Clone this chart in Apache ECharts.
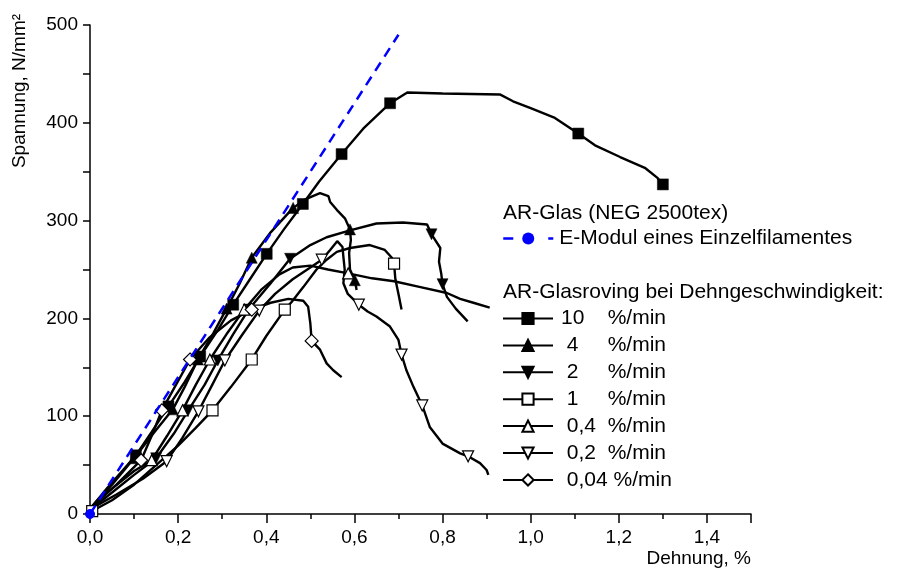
<!DOCTYPE html>
<html>
<head>
<meta charset="utf-8">
<script src="https://cdn.jsdelivr.net/npm/echarts@6/dist/echarts.min.js"></script>
<style>
  html, body { margin: 0; padding: 0; background: #ffffff; }
  #chart { width: 900px; height: 569px; }
</style>
</head>
<body>
<div id="chart"></div>
<script>
// Stress-strain curves of AR glass rovings (NEG 2500tex) at several strain rates.
// Each curve: [Dehnung %, Spannung N/mm²]; marker lists hold the indices of points that carry a symbol.

const xTickValues = [0, 0.2, 0.4, 0.6, 0.8, 1.0, 1.2, 1.4];
const yTickValues = [0, 100, 200, 300, 400, 500];

// E-modulus of a single filament (straight line from the origin)
const eModul = [[0, 0], [0.70, 490]];

const rate10 = [
  [0.005, 8], [0.04, 27], [0.075, 45], [0.104, 60], [0.14, 84], [0.178, 110],
  [0.215, 135], [0.25, 161], [0.29, 188], [0.325, 214], [0.36, 238], [0.401, 266],
  [0.44, 291], [0.483, 317], [0.52, 340], [0.571, 368], [0.62, 394], [0.681, 420],
  [0.72, 431], [0.80, 430], [0.93, 429], [0.96, 422], [1.0, 415], [1.055, 405],
  [1.108, 389], [1.146, 377], [1.203, 365], [1.259, 354], [1.287, 344], [1.30, 337]
];
const rate10Markers = [3, 5, 7, 9, 11, 13, 15, 17, 24, 29];

const rate4 = [
  [0.005, 8], [0.05, 30], [0.10, 57], [0.145, 83], [0.188, 107], [0.215, 130],
  [0.245, 158], [0.28, 185], [0.31, 210], [0.34, 236], [0.367, 262], [0.41, 288],
  [0.461, 313], [0.49, 322], [0.511, 326], [0.522, 328], [0.541, 325], [0.545, 319],
  [0.56, 311], [0.579, 302], [0.59, 291], [0.592, 280], [0.588, 267], [0.59, 250],
  [0.601, 239], [0.605, 229]
];
const rate4Markers = [2, 4, 6, 8, 10, 12, 20, 24];

const rate2 = [
  [0.005, 6], [0.05, 22], [0.10, 40], [0.15, 57], [0.19, 82], [0.223, 106],
  [0.26, 132], [0.29, 157], [0.325, 184], [0.36, 209], [0.41, 236], [0.454, 261],
  [0.50, 275], [0.537, 283], [0.59, 290], [0.65, 297], [0.71, 298], [0.765, 296],
  [0.775, 286], [0.795, 272], [0.792, 258], [0.797, 246], [0.80, 235], [0.81, 222],
  [0.83, 210], [0.857, 197]
];
const rate2Markers = [3, 5, 7, 9, 11, 18, 22];

const rate1 = [
  [0.005, 3], [0.05, 14], [0.10, 30], [0.15, 50], [0.20, 70], [0.24, 88],
  [0.278, 106], [0.32, 130], [0.367, 158], [0.40, 182], [0.442, 209], [0.458, 217],
  [0.484, 232], [0.514, 250], [0.537, 260], [0.56, 268], [0.59, 272], [0.635, 275],
  [0.669, 270], [0.685, 262], [0.69, 256], [0.693, 240], [0.70, 225], [0.707, 209]
];
const rate1Markers = [0, 6, 8, 10, 20];

const rate04 = [
  [0.005, 8], [0.05, 26], [0.10, 44], [0.14, 55], [0.175, 80], [0.21, 106],
  [0.24, 132], [0.272, 158], [0.31, 184], [0.35, 209], [0.39, 230], [0.43, 245],
  [0.46, 252], [0.50, 254], [0.54, 250], [0.586, 246], [0.64, 241], [0.69, 238],
  [0.75, 232], [0.81, 226], [0.84, 220], [0.87, 216], [0.907, 211]
];
const rate04Markers = [3, 5, 7, 9, 15];

const rate02 = [
  [0.005, 6], [0.06, 20], [0.12, 36], [0.174, 54], [0.21, 78], [0.246, 105],
  [0.275, 130], [0.306, 157], [0.345, 183], [0.384, 208], [0.42, 225], [0.46, 240],
  [0.50, 252], [0.526, 260], [0.545, 270], [0.561, 279], [0.573, 273], [0.575, 263],
  [0.578, 250], [0.575, 236], [0.585, 225], [0.61, 214], [0.63, 207], [0.65, 202],
  [0.68, 192], [0.70, 178], [0.707, 163], [0.718, 147], [0.734, 130], [0.754, 111],
  [0.771, 89], [0.80, 72], [0.84, 62], [0.858, 59], [0.885, 52], [0.90, 45], [0.904, 40]
];
const rate02Markers = [3, 5, 7, 9, 13, 21, 26, 29, 33];

const rate004 = [
  [0.005, 8], [0.06, 30], [0.116, 55], [0.14, 80], [0.163, 106], [0.195, 132],
  [0.227, 158], [0.27, 180], [0.32, 198], [0.367, 209], [0.41, 216], [0.45, 220],
  [0.484, 218], [0.495, 212], [0.50, 195], [0.503, 177], [0.522, 168], [0.537, 154],
  [0.552, 147], [0.571, 140]
];
const rate004Markers = [2, 4, 6, 9, 15];

const legendTitleTop = 'AR-Glas (NEG 2500tex)';
const legendTitleRoving = 'AR-Glasroving bei Dehngeschwindigkeit:';
const eModulName = 'E-Modul eines Einzelfilamentes';
const rateNames = ['10    %/min', ' 4     %/min', ' 2     %/min', ' 1     %/min',
                   ' 0,4  %/min', ' 0,2  %/min', ' 0,04 %/min'];

const FONT = '"Liberation Sans", Arial, Helvetica, sans-serif';

function rovingSeries(name, points, markers, symbol, rotate, filled) {
  const marked = new Set(markers);
  return {
    name: name,
    type: 'line',
    data: points,
    symbol: symbol,
    symbolRotate: rotate,
    showAllSymbol: true,
    symbolSize: function (v, p) { return marked.has(p.dataIndex) ? (symbol === 'diamond' ? 13 : 11) : 0; },
    lineStyle: { color: '#000000', width: 2.4 },
    itemStyle: filled
      ? { color: '#000000', borderColor: '#000000', borderWidth: 0.5 }
      : { color: '#ffffff', borderColor: '#000000', borderWidth: 1.2 },
    emphasis: { disabled: true },
    z: 3
  };
}

const chart = echarts.init(document.getElementById('chart'), null, { renderer: 'canvas' });

const option = {
  animation: false,
  backgroundColor: '#ffffff',
  textStyle: { fontFamily: FONT },
  grid: { left: 90, right: 149, top: 25, bottom: 55 },
  xAxis: {
    type: 'value',
    min: 0,
    max: 1.5,
    interval: 0.2,
    name: 'Dehnung, %',
    nameLocation: 'end',
    nameGap: 0,
    nameTextStyle: { fontFamily: FONT, fontSize: 19, color: '#000', align: 'right', verticalAlign: 'top', padding: [35, 0, 0, 0] },
    axisLine: { show: true, onZero: false, lineStyle: { color: '#000', width: 1.5 } },
    axisTick: { show: true, inside: false, length: 9, lineStyle: { color: '#000', width: 1.5 } },
    minorTick: { show: true, splitNumber: 2, length: 5, lineStyle: { color: '#000', width: 1.5 } },
    splitLine: { show: false },
    axisLabel: {
      color: '#000', fontFamily: FONT, fontSize: 19, margin: 14, showMaxLabel: false,
      formatter: function (v) {
        return xTickValues.some(function (t) { return Math.abs(t - v) < 1e-6; }) ? v.toFixed(1).replace('.', ',') : '';
      }
    }
  },
  yAxis: {
    type: 'value',
    min: 0,
    max: 500,
    interval: 100,
    axisLine: { show: true, onZero: false, lineStyle: { color: '#000', width: 1.5 } },
    axisTick: { show: true, inside: false, length: 7, lineStyle: { color: '#000', width: 1.5 } },
    minorTick: { show: true, splitNumber: 2, length: 7, lineStyle: { color: '#000', width: 1.5 } },
    splitLine: { show: false },
    axisLabel: {
      color: '#000', fontFamily: FONT, fontSize: 19, margin: 12,
      formatter: function (v) { return yTickValues.indexOf(v) >= 0 ? String(v) : ''; }
    }
  },
  legend: [
    {
      data: [eModulName],
      orient: 'vertical',
      left: 502,
      top: 228,
      padding: 0,
      itemWidth: 50,
      itemHeight: 15,
      selectedMode: false,
      lineStyle: { type: [10, 35], width: 2.5 },
      textStyle: { fontFamily: FONT, fontSize: 21, color: '#000', lineHeight: 20, padding: [0, 0, 0, 1] }
    },
    {
      data: rateNames,
      orient: 'vertical',
      left: 502,
      top: 308,
      padding: 0,
      itemGap: 5.9,
      itemWidth: 50,
      itemHeight: 14,
      selectedMode: false,
      textStyle: { fontFamily: FONT, fontSize: 21, color: '#000', lineHeight: 20, padding: [0, 0, 0, 3] }
    }
  ],
  graphic: [
    {
      type: 'text', x: 503, y: 213,
      style: { text: legendTitleTop, font: '21px ' + FONT, fill: '#000', verticalAlign: 'middle', textVerticalAlign: 'middle' }
    },
    {
      type: 'text', x: 503, y: 292,
      style: { text: legendTitleRoving, font: '21px ' + FONT, fill: '#000', verticalAlign: 'middle', textVerticalAlign: 'middle' }
    },
    {
      type: 'text', x: 20, y: 91, rotation: Math.PI / 2,
      style: { text: 'Spannung, N/mm²', font: '19px ' + FONT, fill: '#000', align: 'center', textAlign: 'center', verticalAlign: 'middle', textVerticalAlign: 'middle' }
    }
  ],
  series: [
    rovingSeries(rateNames[0], rate10, rate10Markers, 'rect', 0, true),
    rovingSeries(rateNames[1], rate4, rate4Markers, 'triangle', 0, true),
    rovingSeries(rateNames[2], rate2, rate2Markers, 'triangle', 180, true),
    rovingSeries(rateNames[3], rate1, rate1Markers, 'rect', 0, false),
    rovingSeries(rateNames[4], rate04, rate04Markers, 'triangle', 0, false),
    rovingSeries(rateNames[5], rate02, rate02Markers, 'triangle', 180, false),
    rovingSeries(rateNames[6], rate004, rate004Markers, 'diamond', 0, false),
    {
      name: eModulName,
      type: 'line',
      data: eModul,
      symbol: 'circle',
      showAllSymbol: true,
      symbolSize: function (v, p) { return p.dataIndex === 0 ? 9 : 0; },
      lineStyle: { color: '#0000ff', width: 2.5, type: [10, 7] },
      itemStyle: { color: '#0000ff', borderColor: '#0000ff' },
      emphasis: { disabled: true },
      z: 4
    }
  ]
};

chart.setOption(option);
</script>
</body>
</html>
